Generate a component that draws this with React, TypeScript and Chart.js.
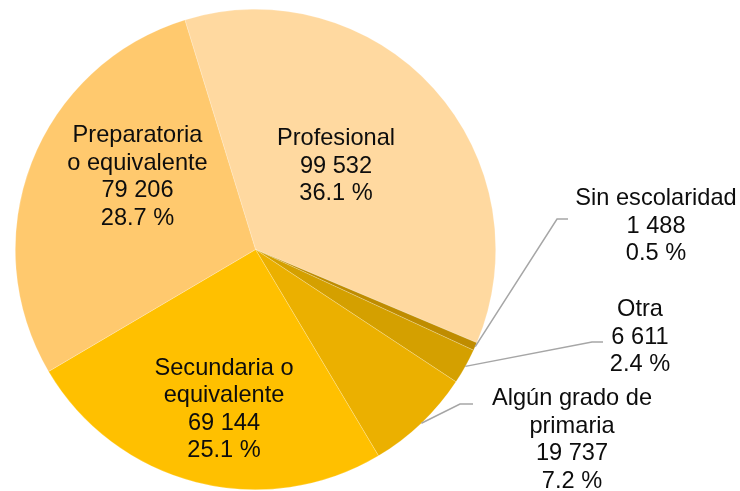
import React, { useEffect, useRef } from "react";
import { Chart, registerables } from "chart.js";

Chart.register(...registerables);

const categories: string[][] = [
  ["Profesional"],
  ["Sin escolaridad"],
  ["Otra"],
  ["Algún grado de", "primaria"],
  ["Secundaria o", "equivalente"],
  ["Preparatoria", "o equivalente"],
];
const values: number[] = [99532, 1488, 6611, 19737, 69144, 79206];
const colors: string[] = ["#FFD9A0", "#BF8C00", "#D4A000", "#EBB000", "#FFC000", "#FFC96E"];

// label block centres, relative to pie centre (px)
const labelPos: [number, number][] = [
  [80.5, -85],
  [400.5, -25],
  [384.5, 85.75],
  [316.5, 188.5],
  [-31.5, 158],
  [-118, -74.25],
];
// leader elbows (relative to pie centre) for outside labels: [elbowX, elbowY, endX]
const leaders: ([number, number, number] | null)[] = [
  null,
  [301.5, -30.5, 312.5],
  [336.5, 92.5, 347.5],
  [204.5, 154.5, 217.5],
  null,
  null,
];

const fmt = (n: number) => String(n).replace(/\B(?=(\d{3})+(?!\d))/g, " ");

const labelPlugin = {
  id: "pieLabels",
  afterDraw(chart: any) {
    const ctx = chart.ctx as CanvasRenderingContext2D;
    const meta = chart.getDatasetMeta(0);
    const total = values.reduce((a, b) => a + b, 0);
    const fontSize = 23.6;
    const lh = 27.5;
    ctx.save();
    meta.data.forEach((arc: any, i: number) => {
      const p = arc.getProps(["x", "y", "startAngle", "endAngle", "outerRadius"], true);
      const cx = p.x, cy = p.y;
      const ld = leaders[i];
      if (ld) {
        const mid = (p.startAngle + p.endAngle) / 2;
        const sx = cx + Math.cos(mid) * p.outerRadius;
        const sy = cy + Math.sin(mid) * p.outerRadius;
        ctx.beginPath();
        ctx.strokeStyle = "#A6A6A6";
        ctx.lineWidth = 1.5;
        ctx.moveTo(sx, sy);
        ctx.lineTo(cx + ld[0], cy + ld[1]);
        ctx.lineTo(cx + ld[2], cy + ld[1]);
        ctx.stroke();
      }
      const lines = [...categories[i], fmt(values[i]), ((values[i] / total) * 100).toFixed(1) + " %"];
      const bx = cx + labelPos[i][0];
      const by = cy + labelPos[i][1];
      ctx.fillStyle = "#0d0d0d";
      ctx.font = `${fontSize}px "Liberation Sans", Arial, sans-serif`;
      ctx.textAlign = "center";
      ctx.textBaseline = "alphabetic";
      const n = lines.length;
      lines.forEach((t, k) => {
        const capCenter = by + (k - (n - 1) / 2) * lh;
        ctx.fillText(t, bx, capCenter + fontSize * 0.358);
      });
    });
    ctx.restore();
  },
};

export default function App() {
  const ref = useRef<HTMLCanvasElement>(null);
  useEffect(() => {
    if (!ref.current) return;
    const chart = new Chart(ref.current, {
      type: "pie",
      data: {
        labels: categories.map((c) => c.join(" ")),
        datasets: [
          {
            data: values,
            backgroundColor: colors,
            borderColor: "rgba(255,255,255,0.35)",
            borderWidth: 0.6,
          },
        ],
      },
      options: {
        responsive: false,
        animation: false,
        rotation: -17.1,
        layout: { padding: { left: 15, right: 244, top: 9, bottom: 1 } },
        plugins: {
          legend: { display: false },
          tooltip: { enabled: false },
        },
      },
      plugins: [labelPlugin],
    });
    return () => chart.destroy();
  }, []);
  return (
    <div style={{ position: "absolute", left: 0, top: 0, width: 740, height: 491, background: "#fff" }}>
      <canvas ref={ref} width={740} height={491} />
    </div>
  );
}
